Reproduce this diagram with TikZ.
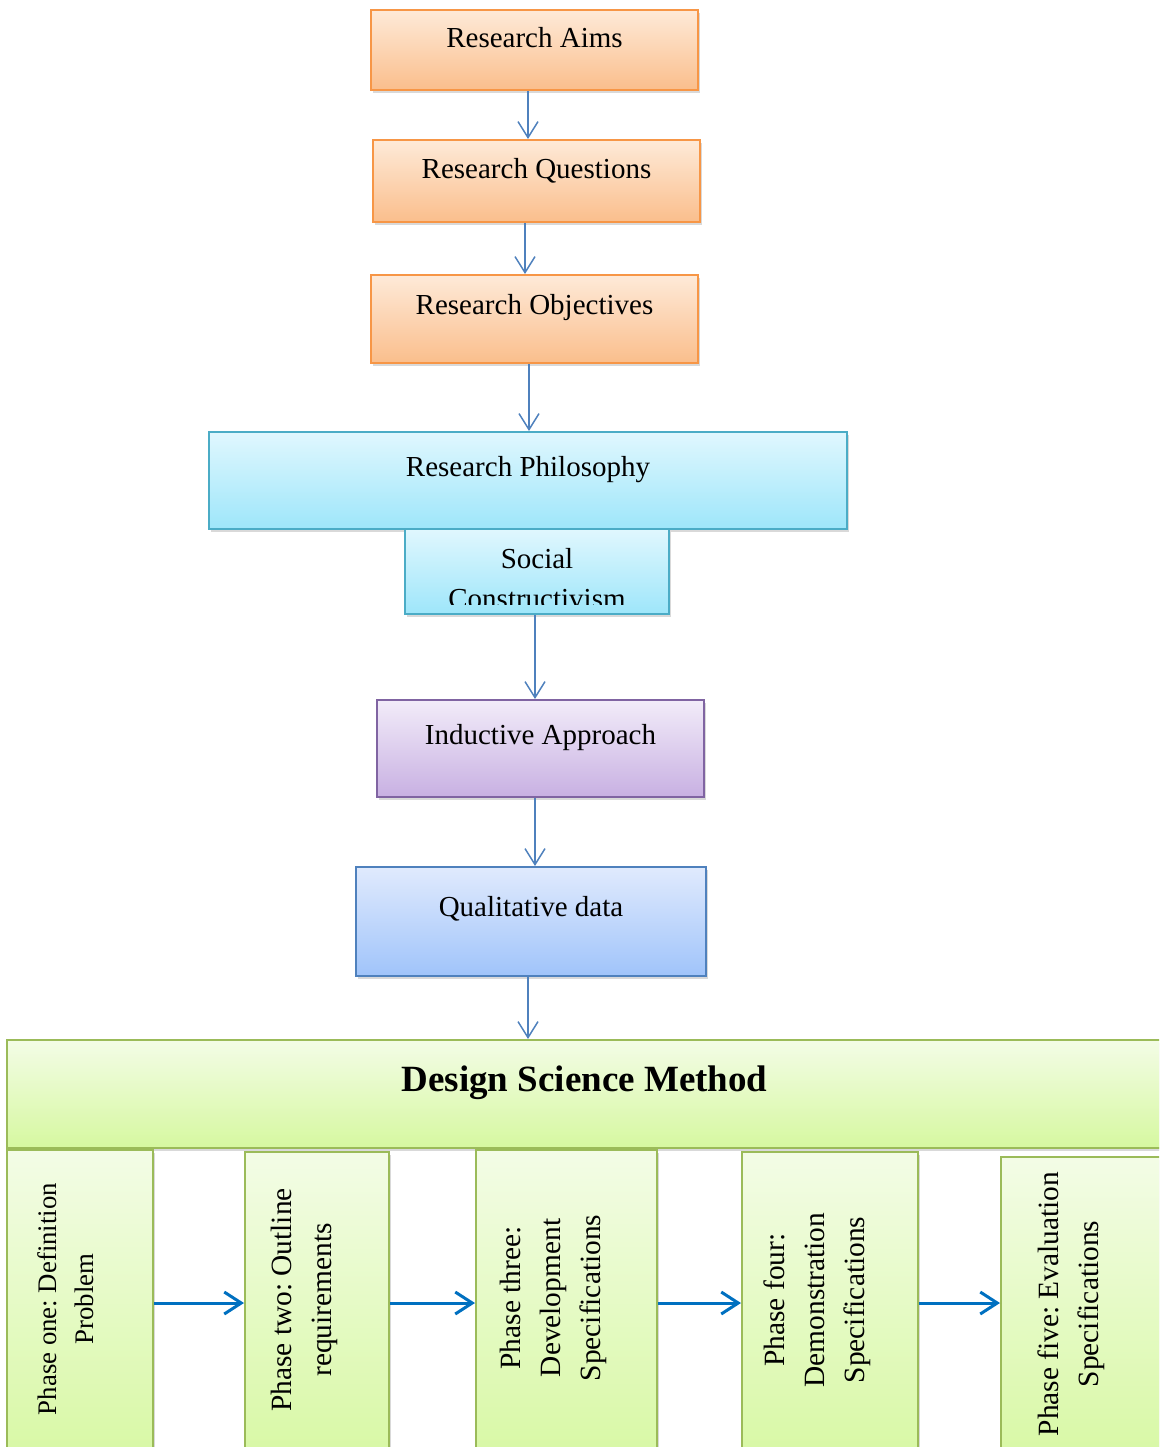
\documentclass[tikz,border=0pt]{standalone}
\usepackage{fontspec}
\setmainfont{Liberation Serif}
\frenchspacing
\usetikzlibrary{arrows.meta,shadows,calc}
\definecolor{orBorder}{RGB}{247,150,70}
\definecolor{orTop}{RGB}{254,234,216}
\definecolor{orBot}{RGB}{250,190,140}
\definecolor{cyBorder}{RGB}{75,172,198}
\definecolor{cyTop}{RGB}{224,247,254}
\definecolor{cyBot}{RGB}{158,230,250}
\definecolor{puBorder}{RGB}{128,100,162}
\definecolor{puTop}{RGB}{242,236,249}
\definecolor{puBot}{RGB}{200,176,226}
\definecolor{blBorder}{RGB}{79,129,189}
\definecolor{blTop}{RGB}{224,234,253}
\definecolor{blBot}{RGB}{160,196,250}
\definecolor{grBorder}{RGB}{155,187,89}
\definecolor{grTop}{RGB}{243,252,230}
\definecolor{grBot}{RGB}{214,248,160}
\definecolor{arrThin}{RGB}{79,129,189}
\definecolor{arrThick}{RGB}{0,112,192}
\begin{document}
\begin{tikzpicture}[x=1pt,y=-1pt,
  box/.style={line width=2pt, inner xsep=0pt, inner ysep=0pt, minimum height=0pt,
    drop shadow={shadow xshift=2pt,shadow yshift=-3pt,opacity=0.3},
    font=\fontsize{29}{38}\selectfont},
  orangebox/.style={box, draw=orBorder, top color=orTop, bottom color=orBot},
  cyanbox/.style={box, draw=cyBorder, top color=cyTop, bottom color=cyBot},
  purplebox/.style={box, draw=puBorder, top color=puTop, bottom color=puBot},
  bluebox/.style={box, draw=blBorder, top color=blTop, bottom color=blBot},
  greenbox/.style={box, draw=grBorder, top color=grTop, bottom color=grBot},
  phasetext/.style={rotate=90, align=center, font=\fontsize{29.4}{40}\selectfont},
  varrow/.style={draw=arrThin, line width=1.5pt, -{Straight Barb[length=16pt,width=20pt]}},
  harrow/.style={draw=arrThick, line width=3pt, -{Straight Barb[length=17pt,width=22pt]}}
]
\clip (0,0) rectangle (1159,1447);

% top boxes
\node[orangebox, minimum width=327pt, text height=37.5pt, text depth=42.5pt] (aims) at (534.5,50) {Research Aims};
\node[orangebox, minimum width=327pt, text height=38.5pt, text depth=43.5pt] (questions) at (536.5,181) {Research Questions};
\node[orangebox, minimum width=327pt, text height=39.5pt, text depth=48.5pt] (objectives) at (534.5,319) {Research Objectives};
\node[cyanbox, minimum width=638pt, text height=44.5pt, text depth=52.5pt] (philosophy) at (528,480.5) {Research Philosophy};
\node[cyanbox, minimum width=264pt, minimum height=85pt] (social) at (537,571.5) {};
\begin{scope}
  \clip (406,530) rectangle (668,604.5);
  \node[align=center, inner sep=0pt, anchor=north, font=\fontsize{29}{40}\selectfont] (socialtext) at (537,548) {Social\\Constructivism};
\end{scope}
\node[purplebox, minimum width=327pt, text height=44.5pt, text depth=52.5pt] (inductive) at (540.5,748.5) {Inductive Approach};
\node[bluebox, minimum width=350pt, text height=49.5pt, text depth=59.5pt] (qualitative) at (531,921.5) {Qualitative data};

% design science method
\node[greenbox, minimum width=1155pt, text height=51pt, text depth=57pt, font=\bfseries\fontsize{37}{44}\selectfont] (dsm) at (584.5,1094) {Design Science Method};

% phases
\node[greenbox, minimum width=146pt, minimum height=330pt] (p1) at (80,1315) {};
\node[greenbox, minimum width=144pt, minimum height=328pt] (p2) at (317,1316) {};
\node[greenbox, minimum width=181pt, minimum height=330pt] (p3) at (566.5,1315) {};
\node[greenbox, minimum width=176pt, minimum height=328pt] (p4) at (830,1316) {};
\node[greenbox, minimum width=170pt, minimum height=323pt] (p5) at (1086,1318.5) {};

\node[phasetext, font=\fontsize{26.8}{37}\selectfont] (p1t) at (66,1299) {Phase one: Definition\\Problem};
\node[phasetext] (p2t) at (304,1300) {Phase two: Outline\\requirements};
\node[phasetext] (p3t) at (553,1298) {Phase three:\\Development\\Specifications};
\node[phasetext] (p4t) at (817,1300) {Phase four:\\Demonstration\\Specifications};
\node[phasetext] (p5t) at (1071,1304) {Phase five: Evaluation\\Specifications};

% vertical arrows
\draw[varrow] ([xshift=-6.5pt]aims.south) -- ([xshift=-8.5pt]questions.north);
\draw[varrow] ([xshift=-11.5pt]questions.south) -- ([xshift=-9.5pt]objectives.north);
\draw[varrow] ([xshift=-5.5pt]objectives.south) -- ([xshift=1pt]philosophy.north);
\draw[varrow] ([xshift=-2pt]social.south) -- ([xshift=-5.5pt]inductive.north);
\draw[varrow] ([xshift=-5.5pt]inductive.south) -- ([xshift=4pt]qualitative.north);
\draw[varrow] ([xshift=-3pt]qualitative.south) -- ([xshift=-56.5pt]dsm.north);

% horizontal arrows
\coordinate (hy) at (0,1303);
\draw[harrow] (p1.east |- hy) -- (p2.west |- hy);
\draw[harrow] (p2.east |- hy) -- (p3.west |- hy);
\draw[harrow] (p3.east |- hy) -- (p4.west |- hy);
\draw[harrow] (p4.east |- hy) -- (p5.west |- hy);
\end{tikzpicture}
\end{document}
